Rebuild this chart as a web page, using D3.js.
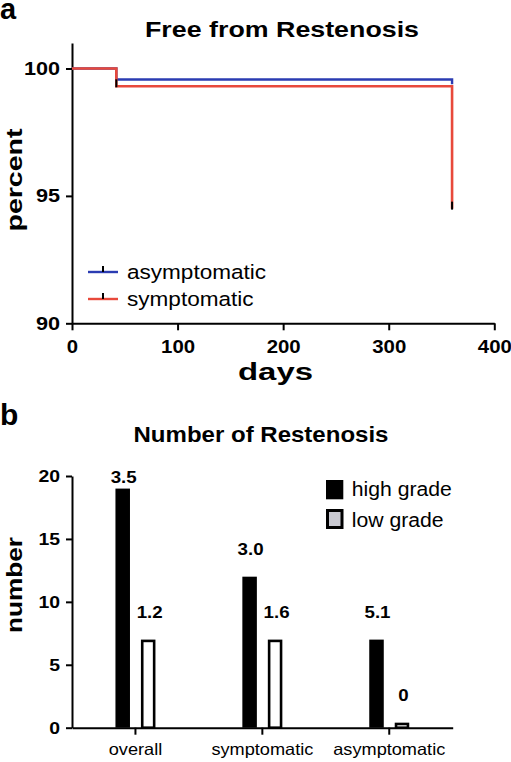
<!DOCTYPE html>
<html><head><meta charset="utf-8">
<script src="https://cdn.jsdelivr.net/npm/d3@7"></script>
<style>
html,body{margin:0;padding:0;background:#fff;}
svg{display:block;font-family:"Liberation Sans",Arial,Helvetica,sans-serif;}
</style></head>
<body>
<svg id="chart" width="511" height="762"></svg>
<script>
// ---------- Panel a data ----------
const kmDays = [0, 42, 360];
const asymptomaticPct = [100, 99.57, 99.38];
const symptomaticPct = [100, 99.30, 94.5];
const symptomaticCensorDays = [42, 360];
const seriesNamesA = ["asymptomatic", "symptomatic"];
const yTicksA = [90, 95, 100];
const xTicksA = [0, 100, 200, 300, 400];

// ---------- Panel b data ----------
const groups = ["overall", "symptomatic", "asymptomatic"];
const gradeNames = ["high grade", "low grade"];
const highGrade = [19, 12, 7];
const lowGrade = [7, 7, 0.4];
const highLabels = ["3.5", "3.0", "5.1"];
const lowLabels = ["1.2", "1.6", "0"];
const yTicksB = [0, 5, 10, 15, 20];

const svg = d3.select("#chart");
const BLUE = "#2b3cb2", RED = "#e8493b";

function stretch(sel, k){
  sel.each(function(){
    const w = this.getComputedTextLength();
    this.setAttribute("textLength", (w*k).toFixed(1));
    this.setAttribute("lengthAdjust", "spacingAndGlyphs");
  });
}
function fit(sel, w){
  sel.attr("textLength", w).attr("lengthAdjust", "spacingAndGlyphs");
}
function styleAxis(g){
  g.selectAll(".domain").attr("stroke", "#000").attr("stroke-width", 2);
  g.selectAll(".tick line").attr("stroke", "#000").attr("stroke-width", 2);
  g.selectAll(".tick text").attr("fill", "#000");
}

// ================= Panel a =================
svg.append("text").attr("x", 0).attr("y", 19).attr("font-size", 29).attr("font-weight", "bold").text("a");
svg.append("text").attr("x", 282).attr("y", 37).attr("text-anchor", "middle")
  .attr("font-size", 22.5).attr("font-weight", "bold").text("Free from Restenosis").call(fit, 274);

const xA = d3.scaleLinear().domain([0, 400]).range([72, 494.3]);
const yA = d3.scaleLinear().domain([90, 101]).range([323.3, 43]);

const gyA = svg.append("g").attr("transform", `translate(${xA(0)},0)`)
  .call(d3.axisLeft(yA).tickValues(yTicksA).tickSize(6).tickPadding(6).tickSizeOuter(0).tickFormat(d3.format("d")));
gyA.selectAll(".tick text").attr("font-size", 18.5).attr("font-weight", "bold").attr("font-family", null).call(stretch, 1.17);
styleAxis(gyA);

const gxA = svg.append("g").attr("transform", `translate(0,${yA(90)})`)
  .call(d3.axisBottom(xA).tickValues(xTicksA).tickSize(7).tickPadding(10).tickSizeOuter(0).tickFormat(d3.format("d")));
gxA.selectAll(".tick text").attr("font-size", 18.5).attr("font-weight", "bold").attr("font-family", null).call(stretch, 1.1);
styleAxis(gxA);

svg.append("text").attr("transform", "translate(22,180) rotate(-90)").attr("text-anchor", "middle")
  .attr("font-size", 22).attr("font-weight", "bold").text("percent").call(fit, 103);
svg.append("text").attr("x", 275.5).attr("y", 380).attr("text-anchor", "middle")
  .attr("font-size", 23.5).attr("font-weight", "bold").text("days").call(fit, 75);

const kmLine = d3.line().x(d => xA(d[0])).y(d => yA(d[1])).curve(d3.curveStepAfter);
const asymPts = kmDays.map((t, i) => [t, asymptomaticPct[i]]);
const symPts = kmDays.map((t, i) => [t, symptomaticPct[i]]);
svg.append("path").datum(asymPts).attr("d", kmLine).attr("fill", "none").attr("stroke", BLUE).attr("stroke-width", 2.4);
svg.append("path").datum(symPts).attr("d", kmLine).attr("fill", "none").attr("stroke", RED).attr("stroke-width", 2.6);

// censor ticks (symptomatic)
const symAt = t => { let v = symptomaticPct[0]; kmDays.forEach((d, i) => { if (d <= t) v = symptomaticPct[i]; }); return v; };
svg.append("g").selectAll("line").data(symptomaticCensorDays).join("line")
  .attr("x1", d => xA(d)).attr("x2", d => xA(d))
  .attr("y1", d => yA(symAt(d)) + 1).attr("y2", d => yA(symAt(d)) - 7)
  .attr("stroke", "#000").attr("stroke-width", 2);

// legend a
const legA = svg.append("g");
[BLUE, RED].forEach((c, i) => {
  const yy = 272 + i * 27;
  legA.append("line").attr("x1", 88).attr("x2", 118).attr("y1", yy).attr("y2", yy).attr("stroke", c).attr("stroke-width", 2.4);
  legA.append("line").attr("x1", 103).attr("x2", 103).attr("y1", yy).attr("y2", yy - 6).attr("stroke", "#000").attr("stroke-width", 2);
  legA.append("text").attr("x", 127).attr("y", yy + 6.5).attr("font-size", 20.5).text(seriesNamesA[i]).call(stretch, 1.1);
});

// ================= Panel b =================
svg.append("text").attr("x", 0).attr("y", 425).attr("font-size", 30).attr("font-weight", "bold").text("b");
svg.append("text").attr("x", 261).attr("y", 441.5).attr("text-anchor", "middle")
  .attr("font-size", 22.5).attr("font-weight", "bold").text("Number of Restenosis").call(fit, 255);

const xB = d3.scaleBand().domain(groups).range([72, 452.7]).padding(0);
const xSub = d3.scaleBand().domain(gradeNames).range([-20, 20]).paddingInner(0.43);
const yB = d3.scaleLinear().domain([0, 20]).range([727.7, 476]);

const gyB = svg.append("g").attr("transform", `translate(72,0)`)
  .call(d3.axisLeft(yB).tickValues(yTicksB).tickSize(6).tickPadding(6).tickSizeOuter(0));
gyB.selectAll(".tick text").attr("font-size", 17).attr("font-weight", "bold").attr("font-family", null).call(stretch, 1.14);
styleAxis(gyB);

svg.append("text").attr("transform", "translate(22,585) rotate(-90)").attr("text-anchor", "middle")
  .attr("font-size", 22).attr("font-weight", "bold").text("number").call(fit, 96);

// bars
const barData = groups.map((g, i) => ({g, high: highGrade[i], low: lowGrade[i], hl: highLabels[i], ll: lowLabels[i]}));
const bw = xSub.bandwidth();
const gB = svg.append("g");
barData.forEach(d => {
  const cx = xB(d.g) + xB.bandwidth() / 2;
  const hx = cx + xSub("high grade");
  const lx = cx + xSub("low grade");
  gB.append("rect").attr("x", hx).attr("y", yB(d.high)).attr("width", bw).attr("height", yB(0) - yB(d.high)).attr("fill", "#000");
  const sw = 2.6;
  gB.append("rect").attr("x", lx + sw/2).attr("y", yB(d.low) + sw/2).attr("width", bw - sw)
    .attr("height", Math.max(0.5, yB(0) - yB(d.low) - sw/2)).attr("fill", "#fff").attr("stroke", "#000").attr("stroke-width", sw);
  const ly = v => Math.max(yB(v) - 22, yB(20) + 7);
  gB.append("text").attr("x", hx + bw/2 + 1).attr("y", ly(d.high)).attr("text-anchor", "middle")
    .attr("font-size", 17).attr("font-weight", "bold").text(d.hl).call(stretch, 1.1);
  gB.append("text").attr("x", lx + bw/2 + 1.5).attr("y", ly(d.low)).attr("text-anchor", "middle")
    .attr("font-size", 17).attr("font-weight", "bold").text(d.ll).call(stretch, 1.1);
});

const gxB = svg.append("g").attr("transform", `translate(0,${yB(0)})`)
  .call(d3.axisBottom(xB).tickSize(7).tickPadding(8.5).tickSizeOuter(0));
gxB.selectAll(".tick text").attr("font-size", 16.5).attr("font-family", null).call(stretch, 1.1);
styleAxis(gxB);

// legend b
const legB = svg.append("g");
legB.append("rect").attr("x", 326).attr("y", 480).attr("width", 17.3).attr("height", 19.3).attr("fill", "#000");
legB.append("rect").attr("x", 327.5).attr("y", 510.5).attr("width", 14.5).attr("height", 17).attr("fill", "#c9c9d1").attr("stroke", "#000").attr("stroke-width", 3);
gradeNames.forEach((n, i) => {
  legB.append("text").attr("x", 351.7).attr("y", 496 + i * 30.5).attr("font-size", 20).text(n).call(stretch, 1.06);
});
</script>
</body></html>
